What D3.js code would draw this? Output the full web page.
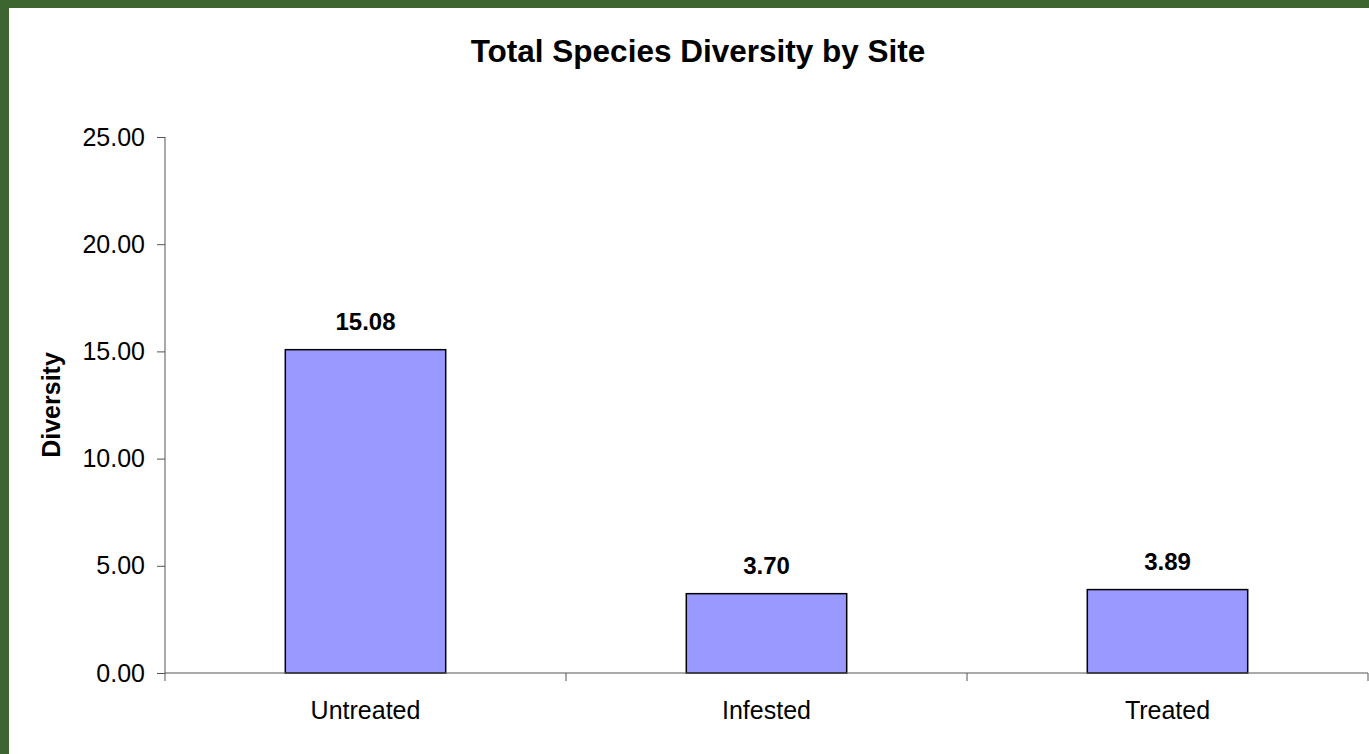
<!DOCTYPE html>
<html>
<head>
<meta charset="utf-8">
<script src="https://cdn.jsdelivr.net/npm/d3@7"></script>
<style>
  body { margin: 0; background: #fff; }
  text { font-family: "Liberation Sans", Arial, sans-serif; }
</style>
</head>
<body>
<svg id="chart" width="1369" height="754"></svg>
<script>
// ---- data ----
const sites = ["Untreated", "Infested", "Treated"];
const diversity = [15.08, 3.70, 3.89];
const yTicks = [0, 5, 10, 15, 20, 25];

const width = 1369;
const height = 754;
const margin = { left: 165, right: 1, top: 137, bottom: 81 };

const svg = d3.select("#chart");

// green frame on top and left
svg.append("rect").attr("x", 0).attr("y", 0).attr("width", width).attr("height", height).attr("fill", "#3d6530");
svg.append("rect").attr("x", 9).attr("y", 8).attr("width", width - 9).attr("height", height - 8).attr("fill", "#fff");

const x = d3.scaleBand()
    .domain(sites)
    .range([margin.left, width - margin.right])
    .paddingInner(0.6)
    .paddingOuter(0.3);

const y = d3.scaleLinear()
    .domain([0, 25])
    .range([height - margin.bottom, margin.top]);

// bars
svg.append("g")
    .selectAll("rect")
    .data(sites)
    .enter()
    .append("rect")
    .attr("x", d => x(d))
    .attr("y", (d, i) => y(diversity[i]))
    .attr("width", x.bandwidth())
    .attr("height", (d, i) => y(0) - y(diversity[i]))
    .attr("fill", "#9999ff")
    .attr("stroke", "#000")
    .attr("stroke-width", 1.5);

// value labels
svg.append("g")
    .selectAll("text")
    .data(sites)
    .enter()
    .append("text")
    .attr("x", d => x(d) + x.bandwidth() / 2)
    .attr("y", (d, i) => y(diversity[i]) - 20)
    .attr("text-anchor", "middle")
    .style("font-size", "24px")
    .style("font-weight", "bold")
    .text((d, i) => diversity[i].toFixed(2));

// y axis
const yAxis = svg.append("g")
    .attr("transform", "translate(" + margin.left + ",0)")
    .call(d3.axisLeft(y).tickValues(yTicks).tickFormat(d3.format(".2f")).tickSize(8).tickPadding(12));
yAxis.selectAll("text").style("font-size", "25px").attr("fill", "#000");
yAxis.selectAll("line, path").attr("stroke", "#555");
yAxis.select(".domain").attr("d", "M0," + y(25) + "V" + y(0));

// x axis with ticks at category boundaries
const bounds = d3.range(sites.length + 1).map(i => margin.left + i * (width - margin.right - margin.left) / sites.length);
const xg = svg.append("g");
xg.append("line")
    .attr("x1", margin.left).attr("x2", width - margin.right)
    .attr("y1", y(0)).attr("y2", y(0))
    .attr("stroke", "#555");
xg.selectAll(".tick")
    .data(bounds)
    .enter()
    .append("line")
    .attr("x1", d => d).attr("x2", d => d)
    .attr("y1", y(0)).attr("y2", y(0) + 8)
    .attr("stroke", "#555");
xg.selectAll("text")
    .data(sites)
    .enter()
    .append("text")
    .attr("x", d => x(d) + x.bandwidth() / 2)
    .attr("y", y(0) + 46)
    .attr("text-anchor", "middle")
    .style("font-size", "25px")
    .text(d => d);

// title
svg.append("text")
    .attr("x", 698)
    .attr("y", 62)
    .attr("text-anchor", "middle")
    .style("font-size", "31.5px")
    .style("font-weight", "bold")
    .text("Total Species Diversity by Site");

// y axis title
svg.append("text")
    .attr("transform", "translate(60," + ((y(0) + y(25)) / 2) + ") rotate(-90)")
    .attr("text-anchor", "middle")
    .style("font-size", "25px")
    .style("font-weight", "bold")
    .text("Diversity");
</script>
</body>
</html>
